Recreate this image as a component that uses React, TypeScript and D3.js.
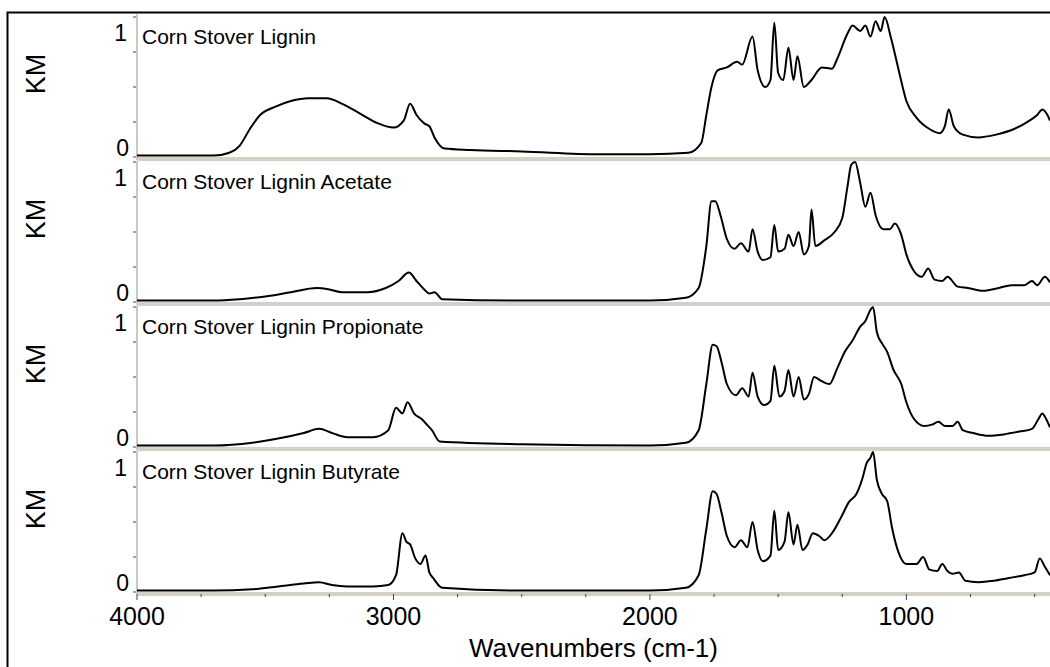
import React from 'react';
import * as d3 from 'd3';

// spectra as [wavenumber, KM] pairs
const cornStover: [number, number][] = [
  [4000, 0.01], [3800, 0.01], [3700, 0.01], [3640, 0.03], [3600, 0.08], [3560, 0.2], [3520, 0.3], [3460, 0.36],
  [3400, 0.4], [3330, 0.42], [3260, 0.42], [3200, 0.38], [3130, 0.31], [3060, 0.24], [3000, 0.21], [2960, 0.26],
  [2935, 0.38], [2910, 0.3], [2880, 0.24], [2860, 0.22], [2840, 0.14], [2800, 0.06], [2700, 0.05], [2500, 0.04],
  [2200, 0.02], [2000, 0.02], [1850, 0.03], [1800, 0.1], [1780, 0.3], [1760, 0.5], [1735, 0.62], [1700, 0.64],
  [1660, 0.68], [1640, 0.66], [1600, 0.86], [1580, 0.62], [1550, 0.5], [1530, 0.55], [1515, 0.96], [1500, 0.6],
  [1480, 0.55], [1460, 0.78], [1440, 0.55], [1425, 0.72], [1400, 0.5], [1370, 0.55], [1330, 0.64], [1290, 0.63],
  [1270, 0.7], [1230, 0.88], [1210, 0.94], [1180, 0.9], [1160, 0.94], [1140, 0.86], [1120, 0.97], [1100, 0.9],
  [1085, 1.0], [1060, 0.85], [1030, 0.62], [1000, 0.4], [960, 0.28], [910, 0.2], [870, 0.17], [850, 0.22],
  [835, 0.34], [815, 0.22], [780, 0.16], [720, 0.14], [650, 0.16], [580, 0.2], [520, 0.26], [490, 0.3],
  [470, 0.34], [450, 0.3], [440, 0.26],
];

const acetate: [number, number][] = [
  [4000, 0.01], [3700, 0.01], [3600, 0.02], [3500, 0.04], [3400, 0.07], [3300, 0.1], [3250, 0.09], [3200, 0.07],
  [3100, 0.07], [3030, 0.1], [2980, 0.15], [2940, 0.21], [2910, 0.15], [2880, 0.09], [2860, 0.06], [2840, 0.07],
  [2810, 0.02], [2500, 0.01], [2000, 0.01], [1860, 0.03], [1810, 0.1], [1780, 0.4], [1760, 0.72], [1745, 0.72],
  [1725, 0.62], [1700, 0.45], [1670, 0.38], [1645, 0.42], [1615, 0.36], [1600, 0.52], [1580, 0.36], [1560, 0.3],
  [1530, 0.32], [1515, 0.55], [1500, 0.36], [1475, 0.38], [1460, 0.48], [1440, 0.4], [1420, 0.5], [1400, 0.34],
  [1380, 0.4], [1370, 0.66], [1355, 0.4], [1320, 0.44], [1280, 0.5], [1250, 0.6], [1230, 0.82], [1215, 0.98],
  [1200, 1.0], [1180, 0.85], [1160, 0.68], [1140, 0.78], [1120, 0.62], [1090, 0.52], [1065, 0.52], [1045, 0.56],
  [1020, 0.48], [1000, 0.34], [970, 0.22], [940, 0.18], [915, 0.24], [890, 0.16], [860, 0.15], [840, 0.18],
  [800, 0.11], [760, 0.1], [700, 0.08], [640, 0.1], [590, 0.12], [540, 0.12], [510, 0.15], [490, 0.12],
  [460, 0.18], [440, 0.14],
];

const propionate: [number, number][] = [
  [4000, 0.01], [3700, 0.01], [3550, 0.03], [3450, 0.06], [3350, 0.1], [3290, 0.13], [3240, 0.1], [3180, 0.07],
  [3080, 0.07], [3020, 0.12], [2990, 0.28], [2965, 0.24], [2945, 0.32], [2920, 0.24], [2890, 0.2], [2870, 0.16],
  [2850, 0.12], [2820, 0.04], [2500, 0.02], [2000, 0.01], [1860, 0.03], [1810, 0.12], [1780, 0.45], [1755, 0.73],
  [1740, 0.72], [1720, 0.6], [1700, 0.45], [1665, 0.37], [1640, 0.42], [1615, 0.36], [1600, 0.53], [1580, 0.36],
  [1555, 0.3], [1530, 0.33], [1515, 0.58], [1495, 0.36], [1475, 0.4], [1460, 0.55], [1440, 0.36], [1420, 0.5],
  [1400, 0.34], [1380, 0.38], [1360, 0.5], [1330, 0.47], [1300, 0.45], [1270, 0.56], [1240, 0.68], [1210, 0.76],
  [1180, 0.86], [1160, 0.9], [1140, 0.98], [1130, 1.0], [1115, 0.82], [1095, 0.74], [1075, 0.68], [1050, 0.55],
  [1020, 0.45], [1000, 0.32], [970, 0.2], [930, 0.15], [900, 0.16], [875, 0.18], [850, 0.15], [820, 0.15],
  [800, 0.18], [780, 0.12], [740, 0.1], [680, 0.08], [620, 0.09], [560, 0.11], [510, 0.13], [485, 0.2],
  [470, 0.24], [455, 0.2], [440, 0.14],
];

const butyrate: [number, number][] = [
  [4000, 0.01], [3700, 0.01], [3550, 0.02], [3450, 0.04], [3350, 0.06], [3290, 0.07], [3240, 0.05], [3180, 0.04],
  [3080, 0.04], [3020, 0.05], [2990, 0.12], [2965, 0.42], [2950, 0.36], [2935, 0.34], [2915, 0.24], [2895, 0.2],
  [2875, 0.26], [2860, 0.14], [2845, 0.1], [2810, 0.03], [2500, 0.01], [2000, 0.01], [1860, 0.03], [1810, 0.12],
  [1780, 0.45], [1755, 0.72], [1740, 0.7], [1720, 0.56], [1700, 0.4], [1670, 0.32], [1645, 0.37], [1620, 0.32],
  [1600, 0.5], [1580, 0.3], [1560, 0.22], [1530, 0.26], [1515, 0.58], [1500, 0.3], [1475, 0.36], [1460, 0.57],
  [1440, 0.34], [1425, 0.48], [1405, 0.3], [1385, 0.34], [1365, 0.42], [1340, 0.4], [1320, 0.37], [1290, 0.42],
  [1250, 0.55], [1225, 0.64], [1195, 0.7], [1170, 0.82], [1155, 0.92], [1140, 0.96], [1130, 1.0], [1115, 0.8],
  [1095, 0.7], [1075, 0.65], [1055, 0.45], [1030, 0.28], [1000, 0.2], [960, 0.2], [935, 0.25], [910, 0.16],
  [880, 0.15], [860, 0.2], [840, 0.15], [820, 0.13], [795, 0.14], [770, 0.08], [720, 0.07], [660, 0.08],
  [600, 0.1], [540, 0.12], [500, 0.14], [480, 0.24], [460, 0.18], [440, 0.12],
];

const seriesNames = [
  'Corn Stover Lignin',
  'Corn Stover Lignin Acetate',
  'Corn Stover Lignin Propionate',
  'Corn Stover Lignin Butyrate',
];
const seriesData = [cornStover, acetate, propionate, butyrate];
const xTicks = [4000, 3000, 2000, 1000];
const xDomain: [number, number] = [4000, 440];

const W = 1050;
const H = 667;
const left = 137;
const right = 1050;
const panelBottoms = [157, 302, 447, 592];
const panelSpan = 140;
const font = 'Liberation Sans, Arial, sans-serif';

export default function App() {
  const x = d3.scaleLinear().domain(xDomain).range([left, right]);
  const minorTicks = d3.range(4000, 440, -250);

  return (
    <svg width={W} height={H} style={{ position: 'absolute', left: 0, top: 0 }} fontFamily={font}>
      <rect x={7.5} y={12.5} width={W} height={H} fill="white" stroke="black" strokeWidth={2} />
      {seriesData.map((data, i) => {
        const bottom = panelBottoms[i];
        const y = d3.scaleLinear().domain([0, 1]).range([bottom, bottom - panelSpan]);
        const line = d3.line<[number, number]>()
          .x(d => x(d[0]))
          .y(d => y(d[1]))
          .curve(d3.curveMonotoneX);
        const top = i === 0 ? 14 : panelBottoms[i - 1] + 4;
        return (
          <g key={i}>
            <line x1={left} x2={left} y1={top} y2={bottom + 3} stroke="#c8c8c8" strokeWidth={2} />
            {[0, 0.25, 0.5, 0.75, 1].map(t => (
              <line key={t} x1={left - 4} x2={left - 1} y1={y(t)} y2={y(t)} stroke="#444" strokeWidth={1} />
            ))}
            <line x1={left} x2={right} y1={bottom + 2} y2={bottom + 2} stroke="#d4d0c8" strokeWidth={4} />
            <text x={left - 10} y={y(1) + 24} fontSize={23} textAnchor="end">1</text>
            <text x={left - 8} y={y(0) - 1} fontSize={23} textAnchor="end">0</text>
            <text transform={`translate(45,${bottom - 83}) rotate(-90)`} fontSize={27} textAnchor="middle">KM</text>
            <text x={left + 5} y={bottom - 113} fontSize={21}>{seriesNames[i]}</text>
            <path d={line(data) ?? ''} fill="none" stroke="black" strokeWidth={2} />
          </g>
        );
      })}
      {minorTicks.map(t => (
        <line key={t} x1={x(t)} x2={x(t)} y1={594} y2={xTicks.includes(t) ? 600 : 597} stroke="#444" />
      ))}
      {xTicks.map(t => (
        <text key={t} x={x(t)} y={625} fontSize={25} textAnchor="middle">{t}</text>
      ))}
      <text x={(left + right) / 2} y={657} fontSize={26} textAnchor="middle">Wavenumbers (cm-1)</text>
    </svg>
  );
}
